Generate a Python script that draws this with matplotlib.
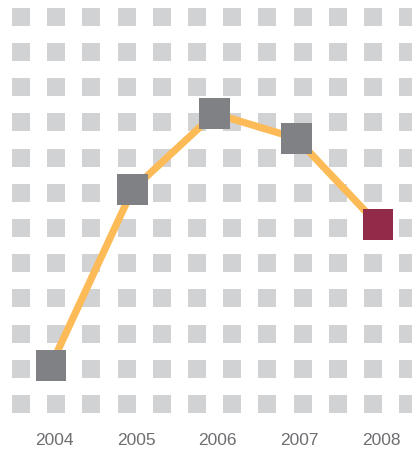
import numpy as np
import matplotlib
matplotlib.use("Agg")
import matplotlib.pyplot as plt
import matplotlib.transforms as mtransforms

# data
years = [2004, 2005, 2006, 2007, 2008]
values = [1.1, 6.1, 8.25, 7.55, 5.1]
year_labels = ["2004", "2005", "2006", "2007", "2008"]
highlight_year = 2008

W, H = 412, 456
fig = plt.figure(figsize=(W / 100, H / 100), dpi=100)
ax = fig.add_axes([0, 0, 1, 1])
ax.set_axis_off()

# pixel -> data mapping: year 2004 at x=51 px, 81.75 px per year
px_per_year = 81.75
x0 = 2004 - 51 / px_per_year
ax.set_xlim(x0, x0 + W / px_per_year)
# value 0 at y=405 px, 35.2 px per unit
px_per_unit = 35.2
ax.set_ylim((405 - H) / px_per_unit, 405 / px_per_unit)

# background grid of light grey squares
gx = x0 + (21 + 35.2 * np.arange(12)) / px_per_year
gy = np.arange(12)
GX, GY = np.meshgrid(gx, gy)
ax.scatter(GX.ravel(), GY.ravel(), marker="s", s=12.6 ** 2, color="#D1D2D4",
           linewidths=0, zorder=1)

# the line and its markers
ax.plot(years, values, color="#FDBB57", lw=5.2, solid_capstyle="butt", zorder=2)
colors = ["#922B4A" if y == highlight_year else "#808184" for y in years]
ax.scatter(years, values, marker="s", s=22.3 ** 2, c=colors, linewidths=0, zorder=3)

# year labels along the bottom
trans = mtransforms.blended_transform_factory(ax.transData, ax.transAxes)
for yr, lab in zip(years, year_labels):
    ax.text(yr + 0.04, 1 - 441 / H, lab, transform=trans, ha="center", va="center",
            fontsize=12.5, color="#6D6E71", family="Liberation Sans")

fig.savefig("out.png", dpi=100)
